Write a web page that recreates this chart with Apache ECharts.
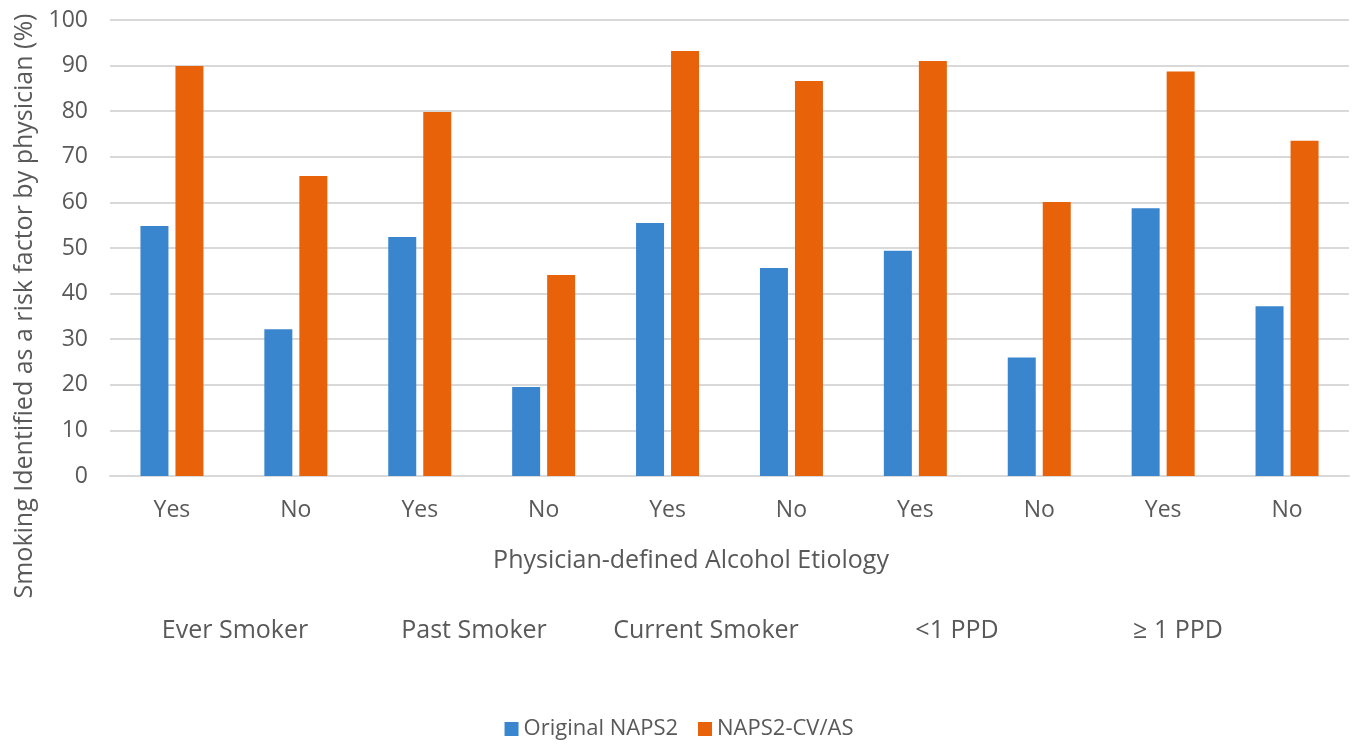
<!DOCTYPE html>
<html><head><meta charset="utf-8">
<script src="https://cdn.jsdelivr.net/npm/echarts@6/dist/echarts.min.js"></script>
<style>html,body{margin:0;padding:0;background:#fff}#c{width:1358px;height:745px}</style>
</head><body><div id="c"></div>
<script>
const categories = ["Yes","No","Yes","No","Yes","No","Yes","No","Yes","No"];
const groupLabels = ["Ever Smoker","Past Smoker","Current Smoker","<1 PPD","\u2265 1 PPD"];
const originalNAPS2 = [54.8, 32.2, 52.4, 19.5, 55.5, 45.6, 49.4, 26.0, 58.7, 37.2];
const naps2CVAS = [89.9, 65.8, 79.8, 44.1, 93.2, 86.6, 91.0, 60.1, 88.7, 73.5];
const yTicks = [0,10,20,30,40,50,60,70,80,90,100];

const FONT = '"Open Sans", sans-serif';
const TXT = '#595959';
const groupX = [235, 474, 706, 957, 1178];

const chart = echarts.init(document.getElementById('c'));
chart.setOption({
  animation: false,
  backgroundColor: '#fff',
  textStyle: {fontFamily: FONT},
  grid: {left: 110, right: 9, top: 20, bottom: 269},
  xAxis: {
    type: 'category', data: categories,
    axisLine: {lineStyle: {color: '#d9d9d9', width: 2}},
    axisTick: {show: false},
    axisLabel: {color: TXT, fontSize: 23, margin: 23, fontFamily: FONT}
  },
  yAxis: {
    type: 'value', min: 0, max: 100, interval: 10,
    axisLine: {show: false}, axisTick: {show: false},
    splitLine: {lineStyle: {color: '#d9d9d9', width: 2}},
    axisLabel: {color: TXT, fontSize: 23, margin: 22, fontFamily: FONT}
  },
  legend: {
    bottom: 0, left: 'center', itemWidth: 14, itemHeight: 14, itemGap: 20,
    icon: 'rect',
    textStyle: {color: TXT, fontSize: 22, fontFamily: FONT},
    data: ['Original NAPS2', 'NAPS2-CV/AS']
  },
  series: [
    {name: 'Original NAPS2', type: 'bar', data: originalNAPS2, barWidth: 28, barGap: '25%',
     itemStyle: {color: '#3A86CE'}},
    {name: 'NAPS2-CV/AS', type: 'bar', data: naps2CVAS, barWidth: 28,
     itemStyle: {color: '#E8620A'}}
  ],
  graphic: [
    {type: 'text', x: 25, y: 306, rotation: Math.PI/2, style: {
      text: 'Smoking Identified as a risk factor by physician (%)', fill: TXT,
      font: '25px ' + FONT, textAlign: 'center', textVerticalAlign: 'middle'}},
    {type: 'text', x: 691, y: 561, style: {
      text: 'Physician-defined Alcohol Etiology', fill: TXT,
      font: '25px ' + FONT, textAlign: 'center', textVerticalAlign: 'middle'}}
  ].concat(groupLabels.map((g, i) => ({type: 'text', x: groupX[i], y: 631, style: {
      text: g, fill: TXT, font: '25px ' + FONT, textAlign: 'center', textVerticalAlign: 'middle'}})))
});
</script></body></html>
